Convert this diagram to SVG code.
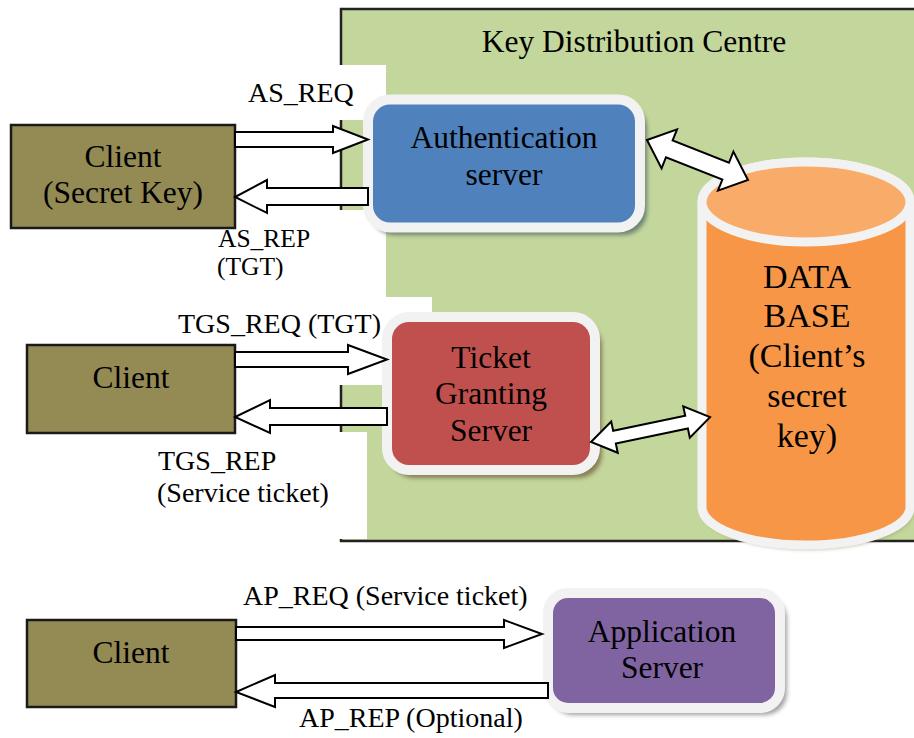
<svg xmlns="http://www.w3.org/2000/svg" width="914" height="738" viewBox="0 0 914 738">
<defs>
<filter id="sh" x="-10%" y="-10%" width="130%" height="130%"><feGaussianBlur stdDeviation="2"/></filter>
</defs>
<style>
.t{font-family:"Liberation Serif","Times New Roman",serif;fill:#000}
.n{font-size:31.5px;text-anchor:middle}
.db{font-size:34px;text-anchor:middle}
.l{font-size:28px}
.client{fill:#948a54;stroke:#1a1a1a;stroke-width:2.5}
.arr{fill:#fff;stroke:#000;stroke-width:2;stroke-linejoin:miter}
.srv{stroke:#f2f2f2;stroke-width:10}
.lbg{fill:#fff}
</style>
<rect width="914" height="738" fill="#fff"/>
<g id="kdc">
<rect x="340" y="9" width="580" height="532" fill="#c3d69b"/>
<path d="M914,9 H341 V541 H914" fill="none" stroke="#222" stroke-width="2.5"/>
<rect class="lbg" x="338" y="65" width="48" height="55"/>
<rect class="lbg" x="338" y="210" width="48" height="87"/>
<rect class="lbg" x="338" y="297" width="94" height="88"/>
<rect class="lbg" x="338" y="432" width="29" height="107"/>
<text class="t n" x="634" y="52">Key Distribution Centre</text>
</g>
<g id="client1">
<rect class="client" x="11" y="125" width="224" height="103"/>
<text class="t n" x="123" y="167">Client</text>
<text class="t n" x="123" y="203">(Secret Key)</text>
</g>
<g id="client2">
<rect class="client" x="27" y="345" width="208" height="88"/>
<text class="t n" x="131" y="388">Client</text>
</g>
<g id="client3">
<rect class="client" x="27" y="620" width="209" height="87"/>
<text class="t n" x="131" y="663">Client</text>
</g>
<g id="auth">
<rect x="371" y="104" width="276" height="131" rx="24" fill="#4a5f66" opacity="0.7" filter="url(#sh)"/>
<rect class="srv" x="368" y="99.5" width="272" height="128" rx="22" fill="#4f81bd"/>
<text class="t n" x="504" y="148">Authentication</text>
<text class="t n" x="504" y="185">server</text>
</g>
<g id="tgs">
<rect x="390" y="322" width="212" height="156" rx="24" fill="#6e5a3a" opacity="0.7" filter="url(#sh)"/>
<rect class="srv" x="387" y="317" width="208" height="153" rx="22" fill="#c0504d"/>
<text class="t n" x="491" y="368">Ticket</text>
<text class="t n" x="491" y="404">Granting</text>
<text class="t n" x="491" y="441">Server</text>
</g>
<g id="database">
<path d="M704,205 V511 A104,38 0 0 0 912,511 V205 Z" fill="#7a6a40" opacity="0.6" filter="url(#sh)"/>
<path d="M702,202 V507 A104,38 0 0 0 910,507 V202 A104,40 0 0 0 702,202 Z" fill="#f79646" stroke="#f2f2f2" stroke-width="9"/>
<ellipse cx="806" cy="202" rx="104" ry="40" fill="#f9ac6a" stroke="#f2f2f2" stroke-width="9"/>
<text class="t db" x="807" y="288">DATA</text>
<text class="t db" x="807" y="327">BASE</text>
<text class="t db" x="807" y="367">(Client’s</text>
<text class="t db" x="807" y="407">secret</text>
<text class="t db" x="807" y="447">key)</text>
</g>
<g id="appserver">
<rect x="551" y="597" width="236" height="118" rx="22" fill="#666" opacity="0.6" filter="url(#sh)"/>
<rect class="srv" x="548" y="593" width="232" height="115" rx="20" fill="#8064a2"/>
<text class="t n" x="662" y="642">Application</text>
<text class="t n" x="662" y="678">Server</text>
</g>
<g id="connectors">
<polygon class="arr" points="235,132 333,132 333,126 368,139.5 333,153 333,147 235,147"/>
<polygon class="arr" points="368,188 267,188 267,180 235,197 267,213 267,205 368,205"/>
<polygon class="arr" points="235,352 348,352 348,345 387,359.5 348,374 348,367 235,367"/>
<polygon class="arr" points="387,408 270,408 270,400 235,417 270,433 270,425 387,425"/>
<polygon class="arr" points="236,627 504,627 504,620 542,634 504,648 504,640 236,640"/>
<polygon class="arr" points="548,683 275,683 275,675 236,692 275,707 275,698 548,698"/>
<polygon class="arr" transform="translate(647,140) rotate(21.6)" points="0,0 24,-21 24,-9 84.6,-9 84.6,-21 108.6,0 84.6,21 84.6,9 24,9 24,21"/>
<polygon class="arr" transform="translate(591,442) rotate(-11.8)" points="0,0 24,-16 24,-6.5 97.6,-6.5 97.6,-16 121.6,0 97.6,16 97.6,6.5 24,6.5 24,16"/>
</g>
<g id="labels">
<text class="t l" x="248" y="102">AS_REQ</text>
<text class="t" style="font-size:25.5px" x="218" y="247">AS_REP</text>
<text class="t" style="font-size:25.5px" x="217" y="275">(TGT)</text>
<text class="t l" x="178" y="333">TGS_REQ (TGT)</text>
<text class="t l" x="158" y="470">TGS_REP</text>
<text class="t l" x="157" y="502">(Service ticket)</text>
<text class="t l" x="243" y="605">AP_REQ (Service ticket)</text>
<text class="t l" x="299" y="727">AP_REP (Optional)</text>
</g>
</svg>
